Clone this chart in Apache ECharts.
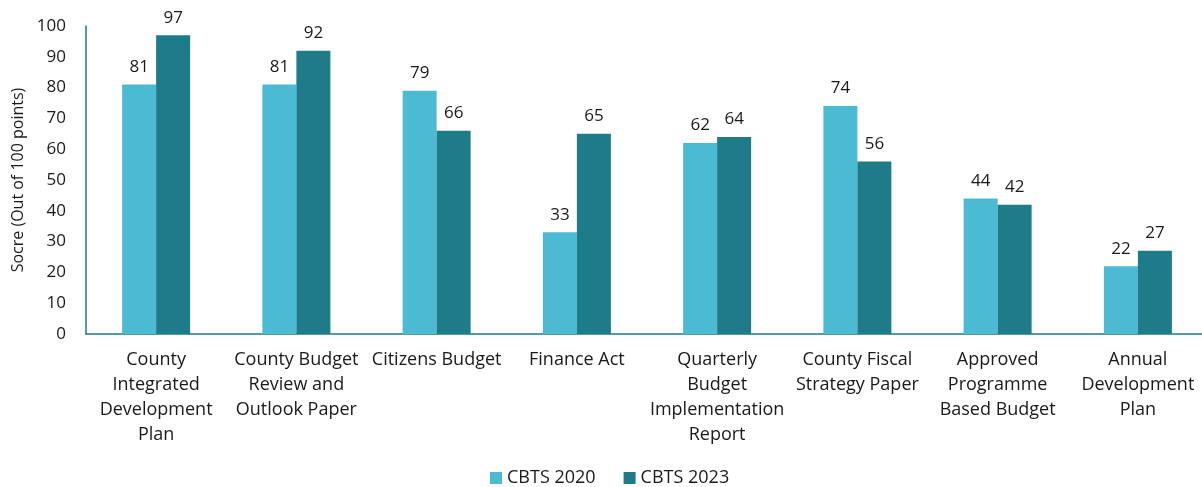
<!DOCTYPE html>
<html>
<head>
<meta charset="utf-8">
<script src="https://cdn.jsdelivr.net/npm/echarts@6/dist/echarts.min.js"></script>
<style>
  html, body { margin: 0; padding: 0; background: #ffffff; overflow: hidden; }
  #chart { width: 1208px; height: 487px; }
</style>
</head>
<body>
<div id="chart"></div>
<script>
// Budget document categories (line breaks as shown under the axis)
const categories = [
  'County\nIntegrated\nDevelopment\nPlan',
  'County Budget\nReview and\nOutlook Paper',
  'Citizens Budget',
  'Finance Act',
  'Quarterly\nBudget\nImplementation\nReport',
  'County Fiscal\nStrategy Paper',
  'Approved\nProgramme\nBased Budget',
  'Annual\nDevelopment\nPlan'
];
const cbts2020 = [81, 81, 79, 33, 62, 74, 44, 22];
const cbts2023 = [97, 92, 66, 65, 64, 56, 42, 27];
const seriesNames = ['CBTS 2020', 'CBTS 2023'];
const yTicks = { min: 0, max: 100, interval: 10 };

const FONT = '"Open Sans", Roboto, sans-serif';
const TEXT = '#1a1a1a';
const AXIS = '#1e7b88';

const chart = echarts.init(document.getElementById('chart'), null, { renderer: 'canvas' });

const labelStyle = {
  show: true,
  position: 'top',
  distance: 9,
  color: TEXT,
  fontFamily: FONT,
  fontSize: 17
};

chart.setOption({
  animation: false,
  textStyle: { fontFamily: FONT },
  // the plot runs a few pixels past the visible right edge
  grid: { left: 86, right: 0, top: 26, bottom: 153, containLabel: false },
  legend: {
    bottom: -5,
    left: 485,
    itemWidth: 12,
    itemHeight: 12,
    itemGap: 28,
    icon: 'rect',
    textStyle: { color: TEXT, fontFamily: FONT, fontSize: 18 },
    data: seriesNames
  },
  xAxis: {
    type: 'category',
    data: categories,
    axisLine: { lineStyle: { color: AXIS, width: 1.5 } },
    axisTick: { show: false },
    axisLabel: {
      color: TEXT,
      fontFamily: FONT,
      fontSize: 18,
      lineHeight: 25,
      margin: 13,
      interval: 0
    }
  },
  yAxis: {
    type: 'value',
    min: yTicks.min,
    max: yTicks.max,
    interval: yTicks.interval,
    name: 'Socre (Out of 100 points)',
    nameLocation: 'middle',
    nameGap: 57,
    nameTextStyle: { color: TEXT, fontFamily: FONT, fontSize: 16 },
    axisLine: { show: true, lineStyle: { color: AXIS, width: 1.5 } },
    axisTick: { show: false },
    splitLine: { show: false },
    axisLabel: { color: TEXT, fontFamily: FONT, fontSize: 17, margin: 20 }
  },
  series: [
    {
      name: seriesNames[0],
      type: 'bar',
      data: cbts2020,
      barWidth: 34,
      barGap: '0%',
      itemStyle: { color: '#4bbad3' },
      label: labelStyle
    },
    {
      name: seriesNames[1],
      type: 'bar',
      data: cbts2023,
      barWidth: 34,
      barGap: '0%',
      itemStyle: { color: '#1e7b88' },
      label: labelStyle
    }
  ]
});
</script>
</body>
</html>
